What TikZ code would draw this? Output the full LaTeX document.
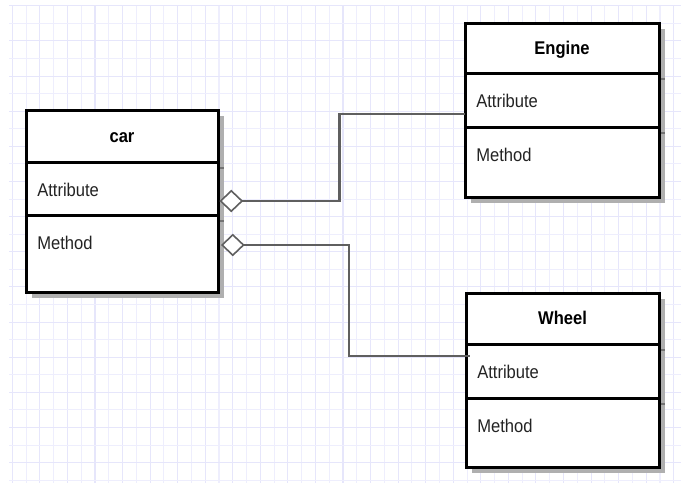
\documentclass[tikz,border=0pt]{standalone}
\usepackage{fontspec}
\setmainfont[FakeStretch=0.9]{Liberation Sans}
\usetikzlibrary{calc,shapes.geometric}
\definecolor{gridminor}{RGB}{238,238,253}
\definecolor{gridmajor}{RGB}{230,230,251}
\definecolor{shadowgray}{RGB}{175,175,175}
\definecolor{shadowline}{RGB}{115,115,115}
\definecolor{connline}{RGB}{95,95,95}
\definecolor{textgray}{RGB}{35,35,35}
\pgfdeclarelayer{gridl}
\pgfdeclarelayer{shadowl}
\pgfsetlayers{gridl,shadowl,main}
\tikzset{
  classpart/.style={draw=black, line width=2.25pt, fill=white, inner sep=0pt,
    outer sep=0pt, anchor=north west, minimum width=#1},
  classhead/.style={classpart=#1, text height=9.7pt, text depth=0pt,
    font=\fontsize{13.8}{16}\selectfont\bfseries, text=black},
  membertext/.style={anchor=base west, inner sep=0pt,
    font=\fontsize{13.8}{16}\selectfont, text=textgray},
  conn/.style={draw=connline, line width=1.8pt},
  aggdiamond/.style={diamond, draw=connline, fill=white, line width=1.2pt,
    inner sep=0pt, minimum width=16.5pt, minimum height=15.75pt, anchor=west},
  shadowbox/.style={fill=shadowgray},
  shadowsep/.style={draw=shadowline, line width=2pt}
}
\begin{document}
\begin{tikzpicture}[x=0.75pt, y=-0.75pt]
\useasboundingbox (0,0) rectangle (681,483);

% background and grid
\begin{pgfonlayer}{gridl}
\fill[white] (0,0) rectangle (681,483);
\foreach \k [evaluate=\k as \xx using 12.3+13.78*\k] in {0,...,48} {
  \ifodd\k \def\gc{gridminor}\else \def\gc{gridmajor}\fi
  \draw[draw=\gc, line width=0.8pt] (\xx,5) -- (\xx,483);
}
\foreach \k [evaluate=\k as \yy using 5.8+17.57*\k] in {0,...,27} {
  \ifodd\k \def\gc{gridminor}\else \def\gc{gridmajor}\fi
  \draw[draw=\gc, line width=0.8pt] (9,\yy) -- (681,\yy);
}
\end{pgfonlayer}

% class car
\node[classhead=144pt, minimum height=39pt] (carH) at (26,110) {car};
\node[classpart=144pt, minimum height=39.75pt] (carA) at (carH.south west) {};
\node[classpart=144pt, minimum height=57.75pt] (carM) at (carA.south west) {};
\node[membertext] (carAt) at ($(carA.north west)+(11,34)$) {Attribute};
\node[membertext] (carMt) at ($(carM.north west)+(11,34)$) {Method};

% class Engine
\node[classhead=145.5pt, minimum height=37.5pt] (engH) at (465,23) {Engine};
\node[classpart=145.5pt, minimum height=40.5pt] (engA) at (engH.south west) {};
\node[classpart=145.5pt, minimum height=52.5pt] (engM) at (engA.south west) {};
\node[membertext] (engAt) at ($(engA.north west)+(11,34)$) {Attribute};
\node[membertext] (engMt) at ($(engM.north west)+(11,34)$) {Method};

% class Wheel
\node[classhead=144.75pt, minimum height=38.25pt] (whH) at (466,293) {Wheel};
\node[classpart=144.75pt, minimum height=40.5pt] (whA) at (whH.south west) {};
\node[classpart=144.75pt, minimum height=51.75pt] (whM) at (whA.south west) {};
\node[membertext] (whAt) at ($(whA.north west)+(11,34)$) {Attribute};
\node[membertext] (whMt) at ($(whM.north west)+(11,34)$) {Method};

% shadows
\begin{pgfonlayer}{shadowl}
\foreach \c in {car,eng,wh} {
  \fill[shadowbox] ($(\c H.north west)+(6,6)$) rectangle ($(\c M.south east)+(6,6)$);
  \draw[shadowsep] ($(\c A.north west)+(6,6)$) -- ($(\c A.north east)+(6,6)$);
  \draw[shadowsep] ($(\c M.north west)+(6,6)$) -- ($(\c M.north east)+(6,6)$);
}
\end{pgfonlayer}

% connectors
\coordinate (c1) at ($(carA.south east)+(1.5,-14)$);
\coordinate (c2) at ($(carM.north east)+(3,30)$);
\coordinate (e1) at ($(engA.north west)+(0,41)$);
\coordinate (w1) at ($(whA.north west)+(4,12)$);
\draw[conn] (c1) ++(20,0) -- ++(100,0) |- (e1);
\draw[conn] (c2) ++(20,0) -- ++(108,0) |- (w1);
\node[aggdiamond] (d1) at (c1) {};
\node[aggdiamond] (d2) at (c2) {};
\end{tikzpicture}
\end{document}
